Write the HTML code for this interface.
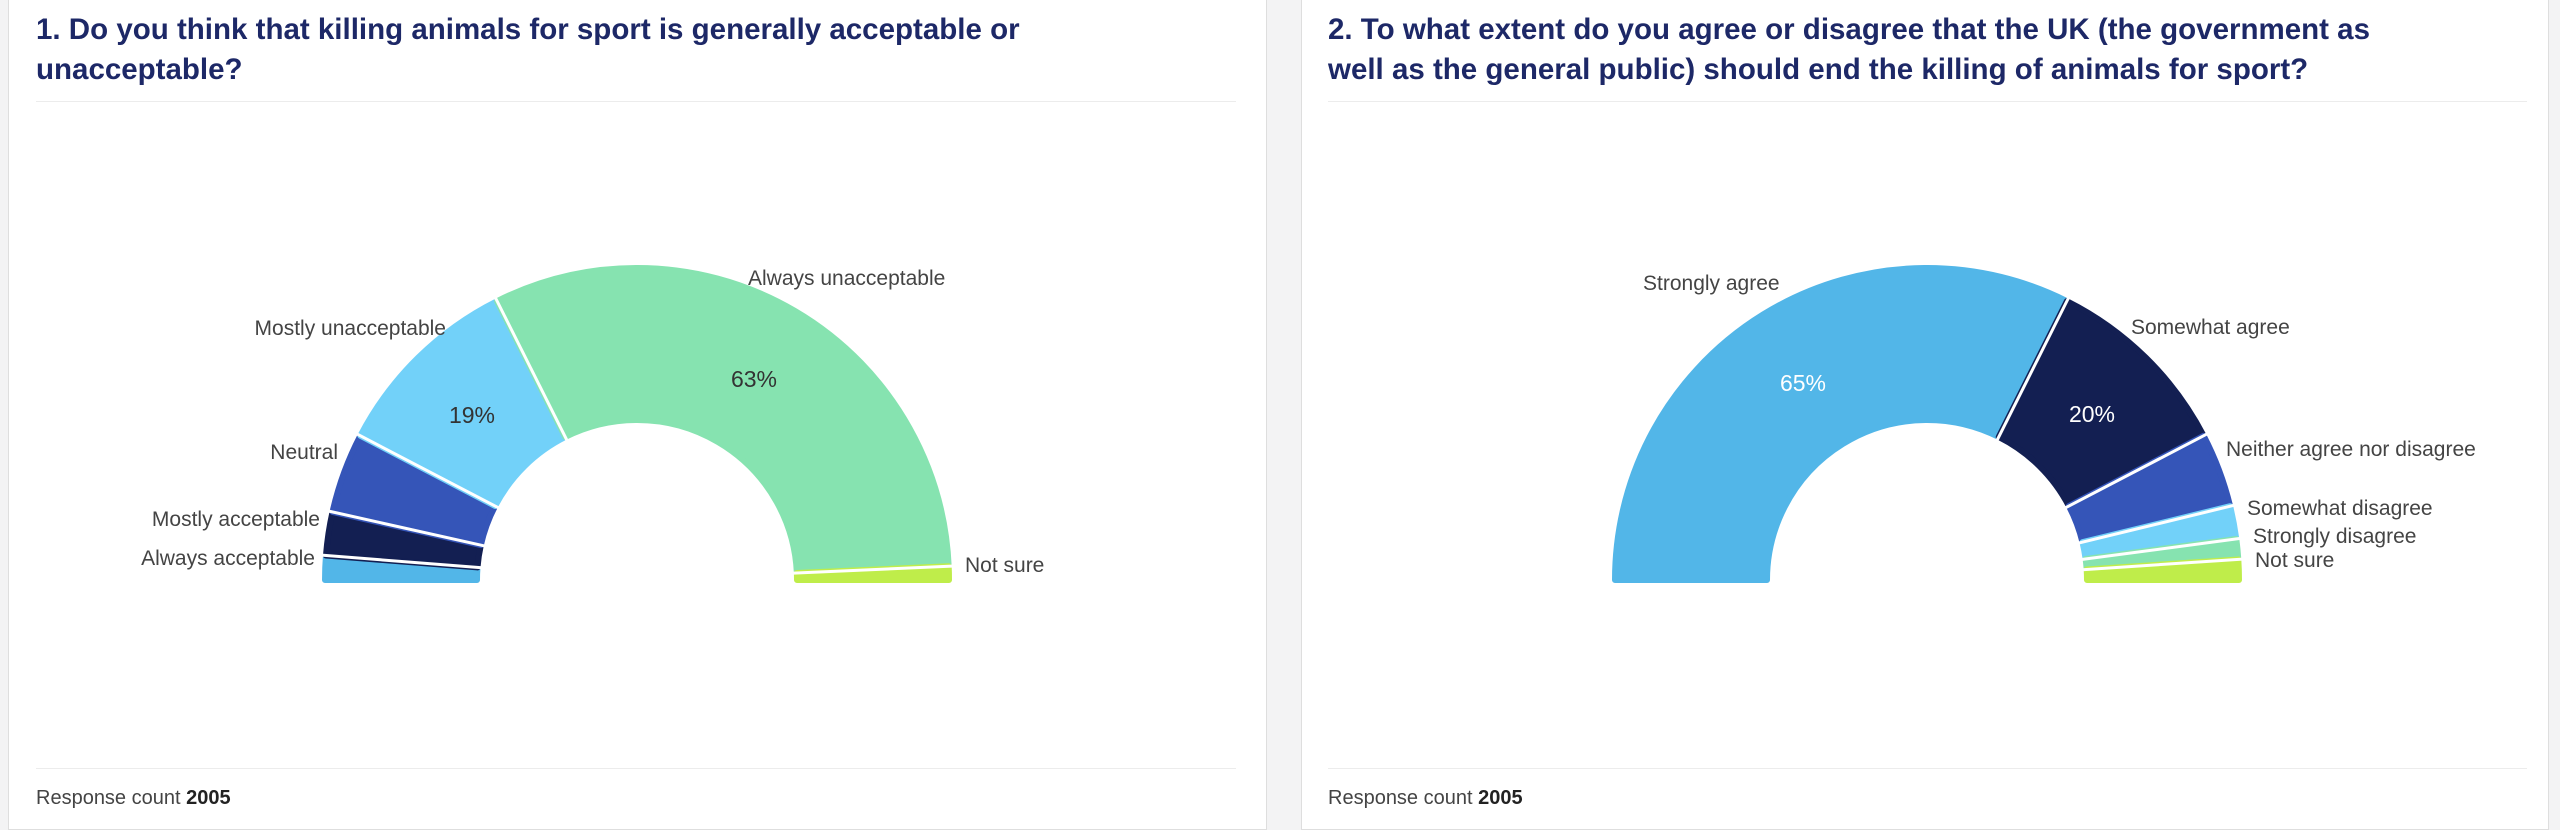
<!DOCTYPE html>
<html><head><meta charset="utf-8"><style>
html,body{margin:0;padding:0;width:2560px;height:825px;overflow:hidden;background:#f3f3f4;font-family:"Liberation Sans",sans-serif}
.card{position:absolute;top:-2px;height:830px;background:#fff;border:1px solid #dedede}
.t{position:absolute;font-family:"Liberation Sans",sans-serif;font-weight:bold;font-size:29.5px;line-height:40px;color:#1d2867;}
.hr{position:absolute;height:1px;background:#ececec}
.f{position:absolute;font-size:20px;color:#444;font-family:"Liberation Sans",sans-serif}
svg{position:absolute;left:0;top:0}
</style></head><body>
<div class="card" style="left:8px;width:1257px"></div>
<div class="card" style="left:1301px;width:1246px"></div>
<div class="t" style="left:36px;top:10px">1. Do you think that killing animals for sport is generally acceptable or<br>unacceptable?</div>
<div class="t" style="left:1328px;top:10px">2. To what extent do you agree or disagree that the UK (the government as<br>well as the general public) should end the killing of animals for sport?</div>
<div class="hr" style="left:36px;width:1200px;top:101px"></div>
<div class="hr" style="left:1328px;width:1199px;top:101px"></div>
<div class="hr" style="left:36px;width:1200px;top:768px"></div>
<div class="hr" style="left:1328px;width:1199px;top:768px"></div>
<div class="f" style="left:36px;top:787px">Response count <b style="color:#222">2005</b></div>
<div class="f" style="left:1328px;top:787px">Response count <b style="color:#222">2005</b></div>
<svg id="s" width="2560" height="825" font-family="Liberation Sans, sans-serif" font-size="21" fill="#444">
<g id="g"></g>
<text x="748" y="285">Always unacceptable</text>
<text x="446" y="335" text-anchor="end">Mostly unacceptable</text>
<text x="338" y="459" text-anchor="end">Neutral</text>
<text x="320" y="526" text-anchor="end">Mostly acceptable</text>
<text x="315" y="565" text-anchor="end">Always acceptable</text>
<text x="965" y="572">Not sure</text>
<text x="472" y="423" text-anchor="middle" font-size="23" fill="#333">19%</text>
<text x="754" y="387" text-anchor="middle" font-size="23" fill="#333">63%</text>
<text x="1643" y="290">Strongly agree</text>
<text x="2131" y="334">Somewhat agree</text>
<text x="2226" y="456">Neither agree nor disagree</text>
<text x="2247" y="515">Somewhat disagree</text>
<text x="2253" y="543">Strongly disagree</text>
<text x="2255" y="567">Not sure</text>
<text x="1803" y="391" text-anchor="middle" font-size="23" fill="#fff">65%</text>
<text x="2092" y="422" text-anchor="middle" font-size="23" fill="#fff">20%</text>
</svg>
<script>
function arc(cx,cy,R,r,a0,a1,col){
  var f=function(p,rad){var t=Math.PI*(1-p/100);return [cx+rad*Math.cos(t),cy-rad*Math.sin(t)];};
  var p1=f(a0,R),p2=f(a1,R),p3=f(a1,r),p4=f(a0,r);
  var s='<path d="M'+p1+' A'+R+' '+R+' 0 0 1 '+p2+' L'+p3+' A'+r+' '+r+' 0 0 0 '+p4+' Z" fill="'+col+'" stroke="'+col+'" stroke-width="6" stroke-linejoin="round"/>';
  if(a0>0) s+='<path d="M'+f(a0,R+6)+' L'+f(a0,r-6)+'" stroke="#fff" stroke-width="3"/>';
  return s;
}
var h='';
var L=[[0,2.5,'#52b6e8'],[2.5,7,'#131f52'],[7,15.3,'#3555b8'],[15.3,35.2,'#72d1f9'],[35.2,98.6,'#86e3b0'],[98.6,100,'#bfed4a']];
L.forEach(function(s){h+=arc(637,580,312,160,s[0],s[1],s[2]);});
var Rr=[[0,64.8,'#52b6e8'],[64.8,84.7,'#131f52'],[84.7,92.4,'#3555b8'],[92.4,95.8,'#72d1f9'],[95.8,97.9,'#86e3b0'],[97.9,100,'#bfed4a']];
Rr.forEach(function(s){h+=arc(1927,580,312,160,s[0],s[1],s[2]);});
document.getElementById('g').innerHTML=h;
</script>
</body></html>
